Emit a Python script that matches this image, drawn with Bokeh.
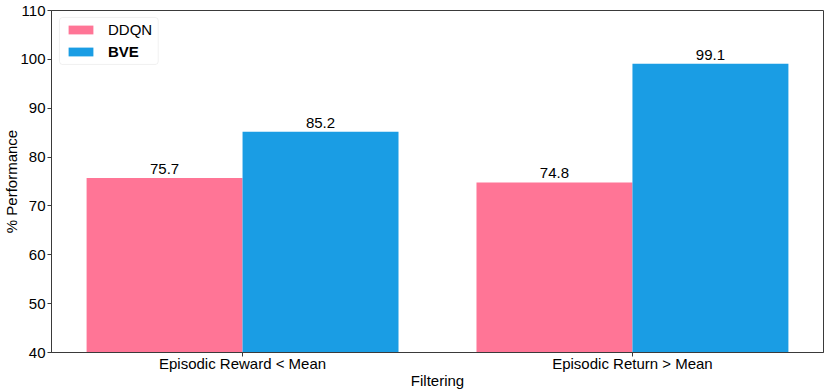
from bokeh.plotting import figure
from bokeh.models import ColumnDataSource, FixedTicker, Legend, LegendItem, BoxAnnotation
from bokeh.embed import file_html
from bokeh.resources import INLINE
from bokeh.core.properties import value

categories = ["Episodic Reward < Mean", "Episodic Return > Mean"]
ddqn = [75.7, 74.8]
bve = [85.2, 99.1]
series_names = ["DDQN", "BVE"]
y_ticks = [40, 50, 60, 70, 80, 90, 100, 110]

FONT = "Liberation Sans"
PINK = "#FF7596"
BLUE = "#1A9DE4"
BAR_W = 0.4

idx = list(range(len(categories)))
src_d = ColumnDataSource(dict(x=[i - BAR_W / 2 for i in idx], top=ddqn,
                              lab=[f"{v:.1f}" for v in ddqn]))
src_b = ColumnDataSource(dict(x=[i + BAR_W / 2 for i in idx], top=bve,
                              lab=[f"{v:.1f}" for v in bve]))

p = figure(width=831, height=392, output_backend="svg", toolbar_location=None,
           x_range=(-0.49, len(categories) - 1 + 0.49), y_range=(40, 110),
           min_border_left=50, min_border_top=10, min_border_right=8, min_border_bottom=40)

rd = p.vbar(x="x", top="top", bottom=40, width=BAR_W, source=src_d, color=PINK, line_color=None)
rb = p.vbar(x="x", top="top", bottom=40, width=BAR_W, source=src_b, color=BLUE, line_color=None)

for s in (src_d, src_b):
    p.text(x="x", y="top", text="lab", source=s, text_align="center", text_baseline="bottom",
           y_offset=-4, text_font=value(FONT), text_font_size="15px", text_color="black")

p.xgrid.visible = False
p.ygrid.visible = False
p.outline_line_color = "#3a3a3a"
p.outline_line_width = 1

p.xaxis.ticker = FixedTicker(ticks=idx)
p.xaxis.major_label_overrides = {i: c for i, c in zip(idx, categories)}
p.yaxis.ticker = FixedTicker(ticks=y_ticks)
p.xaxis.axis_label = "Filtering"
p.yaxis.axis_label = "% Performance"
for ax in (p.xaxis, p.yaxis):
    ax.axis_label_text_font = FONT
    ax.axis_label_text_font_size = "15px"
    ax.axis_label_text_font_style = "normal"
    ax.axis_label_text_color = "black"
    ax.major_label_text_font = FONT
    ax.major_label_text_font_size = "15px"
    ax.major_label_text_color = "black"
    ax.axis_line_color = "#3a3a3a"
    ax.major_tick_line_color = "#3a3a3a"
    ax.major_tick_out = 4
    ax.major_tick_in = 0
    ax.minor_tick_line_color = None
p.xaxis.major_label_standoff = -2
p.xaxis.axis_label_standoff = -3
p.yaxis.major_label_standoff = 2
p.yaxis.axis_label_standoff = -3

box = BoxAnnotation(left=-0.4695, right=-0.2163, top=108.57, bottom=98.95,
                    fill_color="white", fill_alpha=0.8, line_color="#d0d0d0", line_width=1,
                    border_radius=3, level="overlay")
p.add_layout(box)

leg1 = Legend(items=[LegendItem(label=series_names[0], renderers=[rd])], location=(14, 313),
              padding=0, margin=0, spacing=0, glyph_width=31, glyph_height=11, label_height=20,
              label_standoff=12, border_line_alpha=0, background_fill_alpha=0,
              label_text_font=FONT, label_text_font_size="15px", label_text_color="black")
leg2 = Legend(items=[LegendItem(label=series_names[1], renderers=[rb])], location=(14, 291),
              padding=0, margin=0, spacing=0, glyph_width=31, glyph_height=11, label_height=20,
              label_standoff=12, border_line_alpha=0, background_fill_alpha=0,
              label_text_font=FONT, label_text_font_size="15px", label_text_font_style="bold",
              label_text_color="black")
p.add_layout(leg1)
p.add_layout(leg2)

open("out.html", "w").write(file_html(p, INLINE))
